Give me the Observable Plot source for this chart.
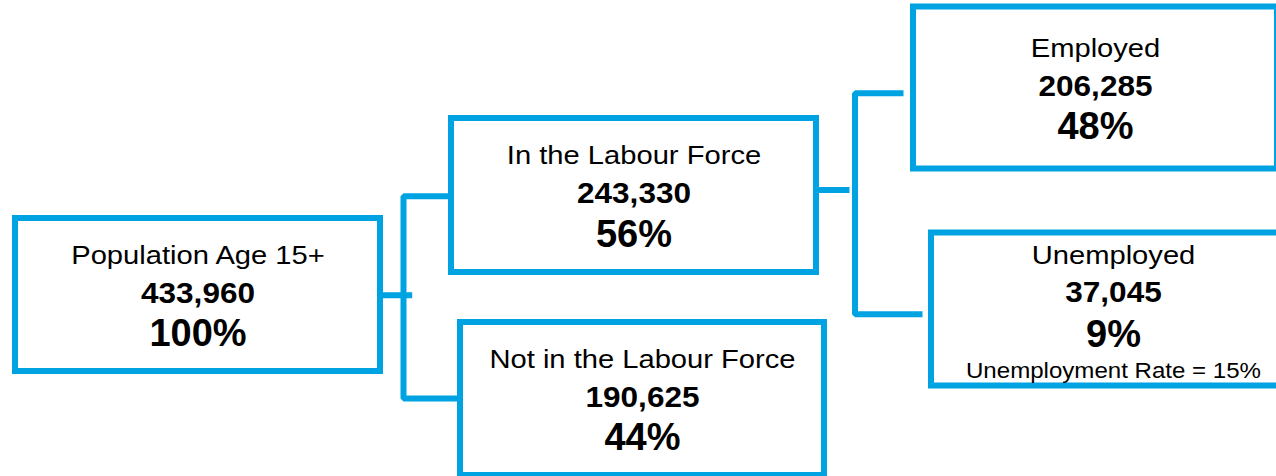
<!DOCTYPE html>
<html>
<head>
<meta charset="utf-8">
<script src="https://cdn.jsdelivr.net/npm/d3@7"></script>
<script src="https://cdn.jsdelivr.net/npm/@observablehq/plot@0.6"></script>
<style>
  html, body { margin: 0; padding: 0; background: #ffffff; overflow: hidden; }
  #chart svg { display: block; }
</style>
</head>
<body>
<div id="chart"></div>
<script>
// ---- data ----
const nodes = ["Population Age 15+", "In the Labour Force", "Not in the Labour Force", "Employed", "Unemployed"];
const counts = [433960, 243330, 190625, 206285, 37045];
const shares = [100, 56, 44, 48, 9];
const notes = ["", "", "", "", "Unemployment Rate = 15%"];
const parents = [null, 0, 0, 1, 1];

// ---- layout (diagram geometry, pixels) ----
const W = 1276, H = 476;
const boxes = [
  {x1: 15,  x2: 380,  y1: 218,   y2: 371},
  {x1: 451, x2: 816,  y1: 118,   y2: 272},
  {x1: 460, x2: 824,  y1: 322,   y2: 475},
  {x1: 913, x2: 1277, y1: 6.5,   y2: 168.5},
  {x1: 931, x2: 1295, y1: 232.5, y2: 385.5}
];
const blue = "#00a3e2";
const font = "Liberation Sans, Arial, Helvetica, sans-serif";

const boxData = nodes.map((name, i) => ({name, ...boxes[i]}));

// text rows
const fmt = d3.format(",");
const rows = [];
nodes.forEach((name, i) => {
  const b = boxes[i];
  const cx = (b.x1 + b.x2) / 2;
  const cy = (b.y1 + b.y2) / 2;
  const hasNote = notes[i] !== "";
  const off = hasNote ? [-45.7, -7.3, 37, 68.3] : [-31.5, 7.5, 51];
  rows.push({x: cx, y: cy + off[0], text: name, kind: "label"});
  rows.push({x: cx, y: cy + off[1], text: fmt(counts[i]), kind: "count"});
  rows.push({x: cx, y: cy + off[2], text: shares[i] + "%", kind: "share"});
  if (hasNote) rows.push({x: cx, y: cy + off[3], text: notes[i], kind: "note"});
});

// connectors (elbow brackets from parent to children)
const links = [];
const stubs = [];
// bracket 1: parent 0 -> children 1,2
links.push(
  {id: "b1", x: 451, y: 195.8}, {id: "b1", x: 403, y: 195.8},
  {id: "b1", x: 403, y: 398},   {id: "b1", x: 460, y: 398}
);
stubs.push({id: "s1", x: 380, y: 294.8}, {id: "s1", x: 411.7, y: 294.8});
// bracket 2: parent 1 -> children 3,4
links.push(
  {id: "b2", x: 903, y: 92.8},   {id: "b2", x: 854.5, y: 92.8},
  {id: "b2", x: 854.5, y: 313.7}, {id: "b2", x: 922, y: 313.7}
);
stubs.push({id: "s2", x: 816, y: 189.5}, {id: "s2", x: 849, y: 189.5});

const textStyle = {
  label: {fontSize: 26.5, fontWeight: "normal", sx: 1.1},
  count: {fontSize: 29.5, fontWeight: "bold", sx: 1.07},
  share: {fontSize: 38, fontWeight: "bold", sx: 1.0},
  note:  {fontSize: 22.5, fontWeight: "normal", sx: 1.07}
};

const textMarks = Object.keys(textStyle).map(k => Plot.text(rows.filter(r => r.kind === k), {
  x: "x", y: "y", text: "text",
  textAnchor: "middle", lineAnchor: "bottom",
  fontSize: textStyle[k].fontSize, fontWeight: textStyle[k].fontWeight,
  fill: "#000000", className: "t-" + k
}));

const chart = Plot.plot({
  width: W, height: H,
  margin: 0,
  style: {fontFamily: font, background: "#ffffff", overflow: "visible"},
  x: {domain: [0, W], range: [0, W], axis: null},
  y: {domain: [0, H], range: [0, H], axis: null},
  marks: [
    Plot.line(links, {x: "x", y: "y", z: "id", stroke: blue, strokeWidth: 6, strokeLinejoin: "miter", strokeLinecap: "butt", curve: "linear"}),
    Plot.line(stubs, {x: "x", y: "y", z: "id", stroke: blue, strokeWidth: 6, strokeLinecap: "butt"}),
    Plot.rect(boxData, {x1: "x1", x2: "x2", y1: "y1", y2: "y2", fill: "#ffffff", stroke: blue, strokeWidth: 6}),
    ...textMarks
  ]
});

// slight horizontal stretch of text to match the reference rendering
Object.keys(textStyle).forEach(k => {
  const sx = textStyle[k].sx;
  if (sx === 1) return;
  chart.querySelectorAll("g.t-" + k + " text, .t-" + k + " text").forEach(t => {
    const tr = t.getAttribute("transform");
    if (tr && tr.includes("translate")) t.setAttribute("transform", tr + ` scale(${sx},1)`);
  });
});

document.getElementById("chart").appendChild(chart);
</script>
</body>
</html>
